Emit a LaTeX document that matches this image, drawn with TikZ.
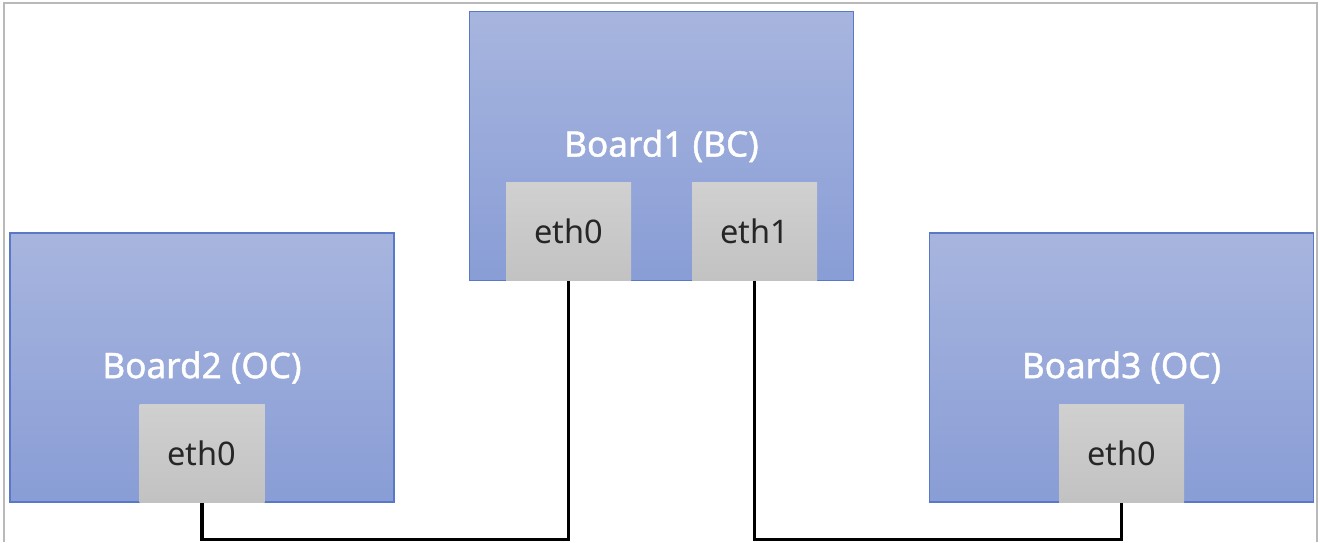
\documentclass[tikz,border=0pt]{standalone}
\usepackage{fontspec}
\setmainfont{Noto Sans}
\newfontfamily\titlefont{Noto Sans}[FakeBold=1.3]
\usetikzlibrary{positioning,calc}
\definecolor{boardtop}{RGB}{167,181,222}
\definecolor{boardbot}{RGB}{137,157,214}
\definecolor{boardedge}{RGB}{90,120,200}
\definecolor{porttop}{RGB}{208,208,208}
\definecolor{portbot}{RGB}{194,194,194}
\definecolor{porttext}{RGB}{38,38,38}

\begin{document}
\begin{tikzpicture}[
    board/.style={draw=boardedge, line width=0.6pt, top color=boardtop, bottom color=boardbot,
        minimum width=7.68cm, minimum height=5.38cm, inner sep=0pt,
        text=white, font=\titlefont\fontsize{20}{23}\selectfont},
    port/.style={fill=portbot, top color=porttop, bottom color=portbot,
        minimum width=2.5cm, minimum height=1.96cm, inner sep=0pt, anchor=south,
        text=porttext, font=\fontsize{18.5}{21}\selectfont},
    wire/.style={line width=1.8pt, black}
]
\useasboundingbox (0,0) rectangle (26.4,10.84);
% Outer frame (open at the bottom)
\draw[gray!55, line width=0.8pt] (0.08,0) -- (0.08,10.78) -- (26.34,10.78) -- (26.34,0);

% Boards
\node[board] (b1) at (13.23,7.92) {Board1 (BC)};
\node[board] (b2) at (4.04,3.49) {Board2 (OC)};
\node[board] (b3) at (22.43,3.49) {Board3 (OC)};

% Ethernet ports sitting on the lower edge of each board
\node[port] (b1e0) at ($(b1.south)+(-1.86,0)$) {eth0};
\node[port] (b1e1) at ($(b1.south)+(1.86,0)$) {eth1};
\node[port] (b2e0) at (b2.south) {eth0};
\node[port] (b3e0) at (b3.south) {eth0};

% Cables
\draw[wire] (b1e0.south) |- ($(b2e0.south)+(0,-0.74)$) -- (b2e0.south);
\draw[wire] (b1e1.south) |- ($(b3e0.south)+(0,-0.74)$) -- (b3e0.south);
\end{tikzpicture}
\end{document}
